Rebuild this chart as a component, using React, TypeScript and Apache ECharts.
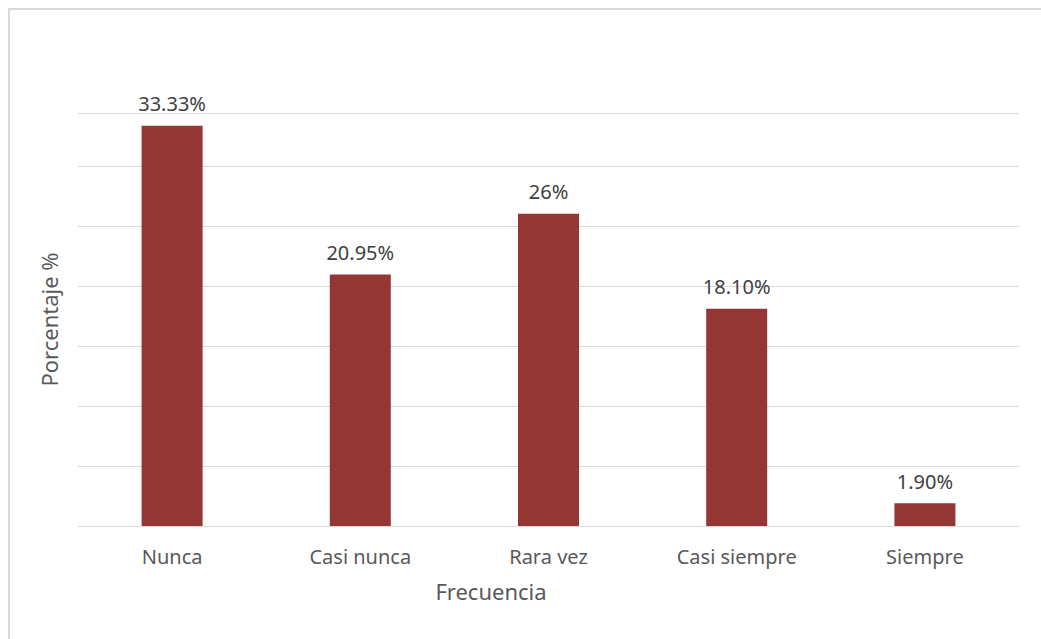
import React, { useEffect, useRef } from "react";
import * as echarts from "echarts";

// Frecuencia de respuesta (porcentaje)
const categories: string[] = ["Nunca", "Casi nunca", "Rara vez", "Casi siempre", "Siempre"];
const percentages: number[] = [33.33, 20.95, 26, 18.1, 1.9];
const valueLabels: string[] = ["33.33%", "20.95%", "26%", "18.10%", "1.90%"];

const xTitle = "Frecuencia";
const yTitle = "Porcentaje %";

const FONT = "'Noto Sans', 'Open Sans', sans-serif";
const BAR = "#943634";
const GRID = "#d9d9d9";
const TEXT = "#595959";

export default function App() {
  const ref = useRef<HTMLDivElement | null>(null);

  useEffect(() => {
    if (!ref.current) return;
    const chart = echarts.init(ref.current, undefined, { renderer: "svg" });
    chart.setOption({
      animation: false,
      backgroundColor: "#ffffff",
      textStyle: { fontFamily: FONT },
      grid: { left: 78, right: 22, top: 113, bottom: 113, containLabel: false },
      xAxis: {
        type: "category",
        data: categories,
        axisLine: { show: true, lineStyle: { color: GRID, width: 1 } },
        axisTick: { show: false },
        axisLabel: { color: TEXT, fontSize: 20, fontFamily: FONT, margin: 20 },
        splitLine: { show: false },
      },
      yAxis: {
        type: "value",
        min: 0,
        max: 34.4,
        interval: 5,
        name: yTitle,
        nameLocation: "middle",
        nameGap: 18,
        nameTextStyle: { color: TEXT, fontSize: 22, fontFamily: FONT },
        axisLine: { show: false },
        axisTick: { show: false },
        axisLabel: { show: false },
        splitLine: { show: true, lineStyle: { color: GRID, width: 1 } },
      },
      graphic: [
        {
          type: "polyline",
          shape: { points: [[9, 639], [9, 9], [1041, 9]] },
          style: { stroke: GRID, lineWidth: 2, fill: "none" },
          silent: true,
        },
        {
          type: "text",
          x: 491,
          y: 591,
          style: {
            text: xTitle,
            fill: TEXT,
            font: `22px ${FONT}`,
            textAlign: "center",
            textVerticalAlign: "middle",
          },
          silent: true,
        },
      ],
      series: [
        {
          type: "bar",
          data: percentages,
          barWidth: 61,
          itemStyle: { color: BAR },
          label: {
            show: true,
            position: "top",
            distance: 12,
            color: "#404040",
            fontSize: 20,
            fontFamily: FONT,
            formatter: (p: any) => valueLabels[p.dataIndex],
          },
        },
      ],
    });
    return () => chart.dispose();
  }, []);

  return (
    <div
      ref={ref}
      style={{ position: "fixed", left: 0, top: 0, width: 1041, height: 639 }}
    />
  );
}
